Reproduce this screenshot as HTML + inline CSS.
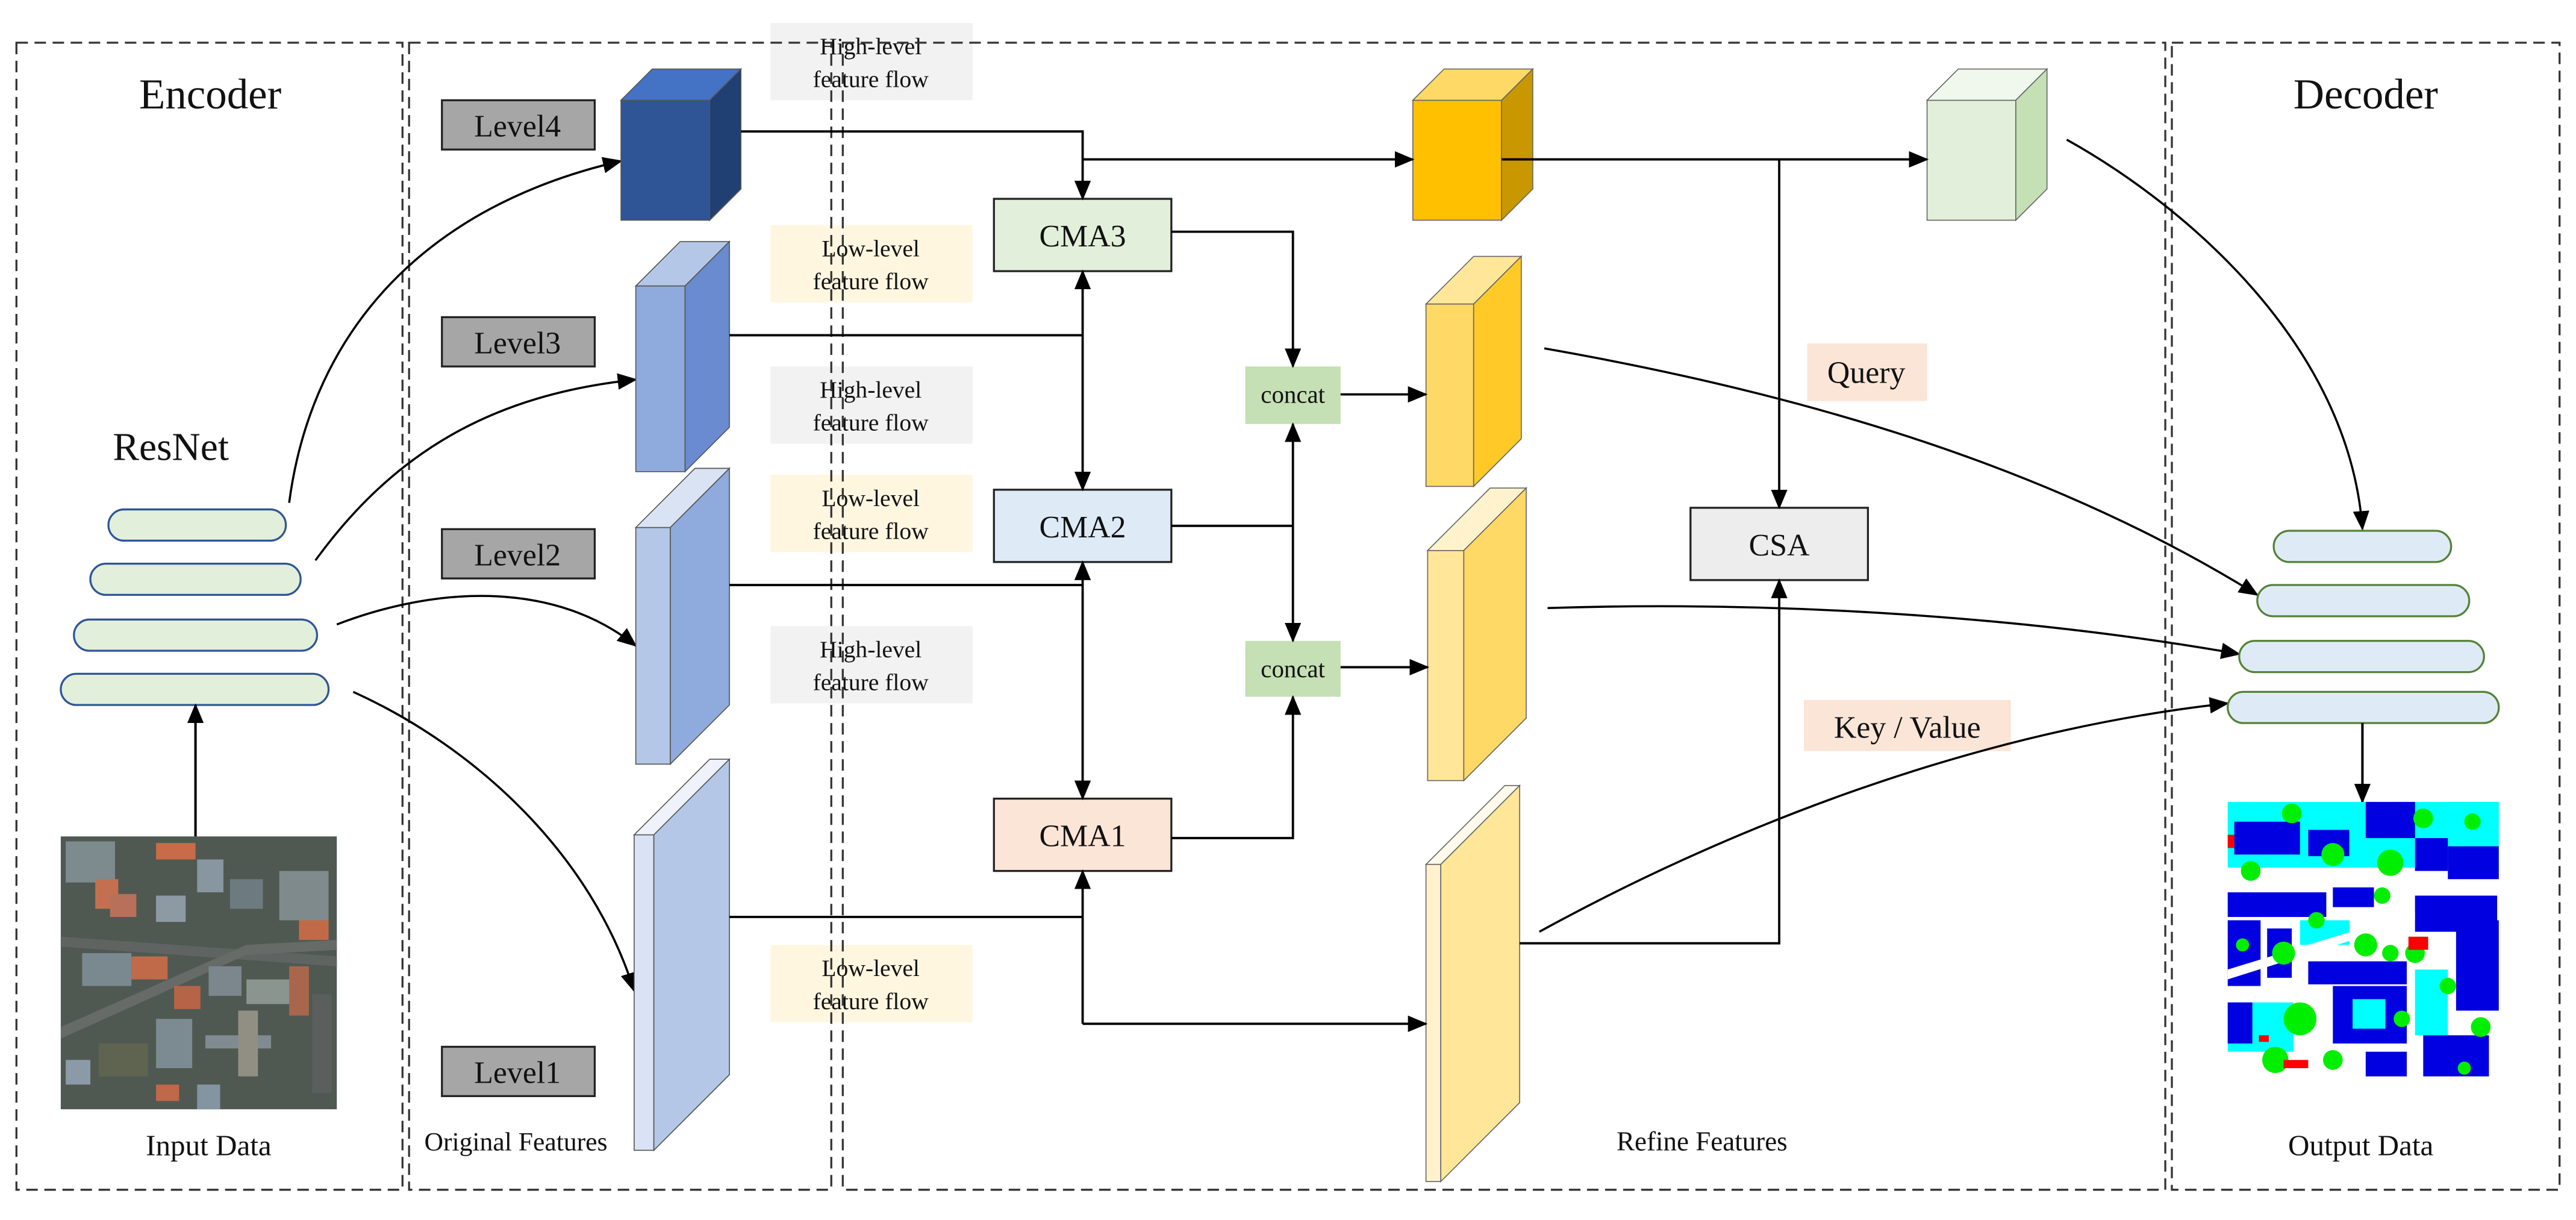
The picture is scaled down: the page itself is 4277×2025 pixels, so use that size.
<!DOCTYPE html>
<html><head><meta charset="utf-8"><style>
html,body{margin:0;padding:0;background:#fff;}
svg{display:block;}
text{font-family:"Liberation Serif",serif;fill:#111;}
</style></head><body>
<svg width="4277" height="2025" viewBox="0 0 1568 742.4" preserveAspectRatio="none" xmlns="http://www.w3.org/2000/svg">
<defs>
<marker id="a" markerUnits="userSpaceOnUse" markerWidth="12" markerHeight="10" refX="11" refY="5" orient="auto"><path d="M0,0 L12,5 L0,10 Z" fill="#000"/></marker>
<marker id="s" markerUnits="userSpaceOnUse" markerWidth="12" markerHeight="10" refX="1" refY="5" orient="auto"><path d="M12,0 L0,5 L12,10 Z" fill="#000"/></marker>
</defs>

<!-- flow labels -->
<g>
<rect x="469" y="14" width="123" height="47" fill="#f2f2f2"/>
<rect x="469" y="137" width="123" height="47" fill="#fff6e0"/>
<rect x="469" y="223" width="123" height="47" fill="#f2f2f2"/>
<rect x="469" y="289" width="123" height="47" fill="#fff6e0"/>
<rect x="469" y="381" width="123" height="47" fill="#f2f2f2"/>
<rect x="469" y="575" width="123" height="47" fill="#fff6e0"/>
</g>
<g font-size="14.5" text-anchor="middle">
<text x="530" y="33">High-level</text><text x="530" y="53">feature flow</text>
<text x="530" y="156">Low-level</text><text x="530" y="176">feature flow</text>
<text x="530" y="242">High-level</text><text x="530" y="262">feature flow</text>
<text x="530" y="308">Low-level</text><text x="530" y="328">feature flow</text>
<text x="530" y="400">High-level</text><text x="530" y="420">feature flow</text>
<text x="530" y="594">Low-level</text><text x="530" y="614">feature flow</text>
</g>

<!-- dashed boxes -->
<g fill="none" stroke="#333" stroke-width="1.2" stroke-dasharray="7,4">
<rect x="10" y="26" width="235" height="698"/>
<rect x="249" y="26" width="257" height="698"/>
<rect x="513" y="26" width="805" height="698"/>
<rect x="1322" y="26" width="236" height="698"/>
</g>

<!-- titles -->
<text x="128" y="66" font-size="26" text-anchor="middle">Encoder</text>
<text x="1440" y="66" font-size="26" text-anchor="middle">Decoder</text>
<text x="104" y="280" font-size="24" text-anchor="middle">ResNet</text>
<text x="127" y="703" font-size="18" text-anchor="middle">Input Data</text>
<text x="1437" y="703" font-size="18" text-anchor="middle">Output Data</text>
<text x="314" y="700" font-size="16" text-anchor="middle">Original Features</text>
<text x="1036" y="700" font-size="16.5" text-anchor="middle">Refine Features</text>

<!-- ResNet bars -->
<g fill="#e2efda" stroke="#2f5597" stroke-width="1.2">
<rect x="66" y="310" width="108" height="19" rx="9.5"/>
<rect x="55" y="343" width="128" height="19" rx="9.5"/>
<rect x="45" y="377" width="148" height="19" rx="9.5"/>
<rect x="37" y="410" width="163" height="19" rx="9.5"/>
</g>
<line x1="119" y1="509" x2="119" y2="429" stroke="#000" stroke-width="1.5" marker-end="url(#a)"/>

<!-- input satellite image -->
<g>
<rect x="37" y="509" width="168" height="166" fill="#4a5249"/>
<rect x="37" y="509" width="168" height="166" fill="#56605a" opacity=".5"/>
<rect x="40" y="512" width="30" height="25" fill="#7d8a8e"/>
<rect x="58" y="535" width="14" height="18" fill="#c47050"/>
<rect x="95" y="513" width="24" height="10" fill="#c96b48"/>
<rect x="120" y="523" width="16" height="20" fill="#8896a0"/>
<rect x="140" y="535" width="20" height="18" fill="#6d7a80"/>
<rect x="170" y="530" width="30" height="30" fill="#7f8a8c"/>
<rect x="182" y="560" width="18" height="12" fill="#c26a48"/>
<rect x="95" y="545" width="18" height="16" fill="#8d9aa4"/>
<rect x="67" y="544" width="16" height="14" fill="#b8705a"/>
<polygon points="37,570 205,582 205,588 37,576" fill="#5f6462"/>
<polygon points="37,625 150,575 205,572 205,578 150,581 37,632" fill="#676b68"/>
<rect x="50" y="580" width="30" height="20" fill="#7a8890"/>
<rect x="80" y="582" width="22" height="14" fill="#c06a4a"/>
<rect x="106" y="600" width="16" height="14" fill="#b66448"/>
<rect x="127" y="588" width="20" height="18" fill="#7b878c"/>
<rect x="150" y="596" width="28" height="15" fill="#8b9590"/>
<rect x="176" y="588" width="12" height="30" fill="#a9664c"/>
<rect x="190" y="605" width="12" height="60" fill="#5a5e5d"/>
<rect x="60" y="635" width="30" height="20" fill="#5e6450"/>
<rect x="95" y="620" width="22" height="30" fill="#7c8a92"/>
<rect x="125" y="630" width="40" height="8" fill="#7f8b90"/>
<rect x="145" y="615" width="12" height="40" fill="#918f84"/>
<rect x="40" y="645" width="15" height="15" fill="#8c9aa8"/>
<rect x="120" y="660" width="14" height="15" fill="#8395a0"/>
<rect x="95" y="660" width="14" height="10" fill="#c0684a"/>
</g>

<!-- encoder curves -->
<g fill="none" stroke="#000" stroke-width="1.3">
<path d="M176,306 C190,200 260,125 378,98" marker-end="url(#a)"/>
<path d="M192,341 C240,275 300,240 387,231" marker-end="url(#a)"/>
<path d="M205,380 C270,355 340,355 387,393" marker-end="url(#a)"/>
<path d="M215,421 C290,455 360,520 386,603" marker-end="url(#a)"/>
</g>

<!-- level labels -->
<g fill="#a6a6a6" stroke="#222" stroke-width="1.2">
<rect x="269" y="61" width="93" height="30"/>
<rect x="269" y="193" width="93" height="30"/>
<rect x="269" y="322" width="93" height="30"/>
<rect x="269" y="637" width="93" height="30"/>
</g>
<g font-size="19" text-anchor="middle">
<text x="315" y="83">Level4</text>
<text x="315" y="215">Level3</text>
<text x="315" y="344">Level2</text>
<text x="315" y="659">Level1</text>
</g>

<!-- blue cubes -->
<g stroke="#555" stroke-width=".6">
<rect x="378" y="61" width="54" height="73" fill="#2f5597"/>
<polygon points="378,61 397,42 451,42 432,61" fill="#4472c4"/>
<polygon points="432,61 451,42 451,115 432,134" fill="#203f73"/>
<rect x="387" y="174" width="30" height="113" fill="#8faadc"/>
<polygon points="387,174 414,147 444,147 417,174" fill="#b4c7e7"/>
<polygon points="417,174 444,147 444,260 417,287" fill="#6a8bd0"/>
<rect x="387" y="321" width="21" height="144" fill="#b4c7e7"/>
<polygon points="387,321 423,285 444,285 408,321" fill="#dae3f3"/>
<polygon points="408,321 444,285 444,429 408,465" fill="#8faadc"/>
<rect x="386" y="508" width="12" height="192" fill="#dae3f3"/>
<polygon points="386,508 432,462 444,462 398,508" fill="#eef2fa"/>
<polygon points="398,508 444,462 444,654 398,700" fill="#b4c7e7"/>
</g>

<!-- yellow cubes -->
<g stroke="#666" stroke-width=".6">
<rect x="860" y="61" width="54" height="73" fill="#ffc000"/>
<polygon points="860,61 879,42 933,42 914,61" fill="#ffd966"/>
<polygon points="914,61 933,42 933,115 914,134" fill="#c99700"/>
<rect x="868" y="185" width="29" height="111" fill="#ffd966"/>
<polygon points="868,185 897,156 926,156 897,185" fill="#ffe699"/>
<polygon points="897,185 926,156 926,267 897,296" fill="#ffca28"/>
<rect x="869" y="335" width="22" height="140" fill="#ffe699"/>
<polygon points="869,335 907,297 929,297 891,335" fill="#fff2cc"/>
<polygon points="891,335 929,297 929,437 891,475" fill="#ffd966"/>
<rect x="868" y="526" width="9" height="193" fill="#fff2cc"/>
<polygon points="868,526 916,478 925,478 877,526" fill="#fffaeb"/>
<polygon points="877,526 925,478 925,671 877,719" fill="#ffe699"/>
<rect x="1173" y="61" width="54" height="73" fill="#e2efda"/>
<polygon points="1173,61 1192,42 1246,42 1227,61" fill="#f0f7ec"/>
<polygon points="1227,61 1246,42 1246,115 1227,134" fill="#c5e0b4"/>
</g>

<!-- CMA boxes -->
<g stroke="#222" stroke-width="1.2">
<rect x="605" y="121" width="108" height="44" fill="#e2efda"/>
<rect x="605" y="298" width="108" height="44" fill="#deebf7"/>
<rect x="605" y="486" width="108" height="44" fill="#fbe5d6"/>
<rect x="1029" y="309" width="108" height="44" fill="#ededed"/>
</g>
<rect x="758" y="223" width="58" height="35" fill="#c5e0b4"/>
<rect x="758" y="390" width="58" height="34" fill="#c5e0b4"/>
<rect x="1100" y="209" width="73" height="35" fill="#fbe5d6"/>
<rect x="1098" y="426" width="126" height="31" fill="#fbe5d6"/>
<g font-size="19" text-anchor="middle">
<text x="659" y="150">CMA3</text>
<text x="659" y="327">CMA2</text>
<text x="659" y="515">CMA1</text>
<text x="1083" y="338">CSA</text>
<text x="1136" y="233">Query</text>
<text x="1161" y="449">Key / Value</text>
</g>
<g font-size="15" text-anchor="middle">
<text x="787" y="245">concat</text>
<text x="787" y="412">concat</text>
</g>

<!-- connectors -->
<g fill="none" stroke="#000" stroke-width="1.4">
<path d="M451,80 H659 V121" marker-end="url(#a)"/>
<path d="M659,97 H860" marker-end="url(#a)"/>
<path d="M444,204 H659"/>
<path d="M659,165 V298" marker-start="url(#s)" marker-end="url(#a)"/>
<path d="M444,356 H659"/>
<path d="M659,342 V486" marker-start="url(#s)" marker-end="url(#a)"/>
<path d="M444,558 H659"/>
<path d="M659,623 V530" marker-end="url(#a)"/>
<path d="M659,623 H868" marker-end="url(#a)"/>
<path d="M713,141 H787 V223" marker-end="url(#a)"/>
<path d="M816,240 H868" marker-end="url(#a)"/>
<path d="M713,320 H787"/>
<path d="M787,320 V258" marker-end="url(#a)"/>
<path d="M787,320 V390" marker-end="url(#a)"/>
<path d="M816,406 H869" marker-end="url(#a)"/>
<path d="M713,510 H787 V424" marker-end="url(#a)"/>
<path d="M914,97 H1173" marker-end="url(#a)"/>
<path d="M1083,97 V309" marker-end="url(#a)"/>
<path d="M925,574 H1083 V353" marker-end="url(#a)"/>
</g>
<g fill="none" stroke="#000" stroke-width="1.3">
<path d="M1258,85 C1330,125 1430,210 1438,322" marker-end="url(#a)"/>
<path d="M940,212 C1100,240 1250,285 1374,362" marker-end="url(#a)"/>
<path d="M942,370 C1100,365 1250,378 1363,398" marker-end="url(#a)"/>
<path d="M937,567 C1050,505 1200,445 1356,428" marker-end="url(#a)"/>
</g>

<!-- decoder bars -->
<g fill="#deebf7" stroke="#548235" stroke-width="1.2">
<rect x="1384" y="323" width="108" height="19" rx="9.5"/>
<rect x="1374" y="356" width="129" height="19" rx="9.5"/>
<rect x="1363" y="390" width="149" height="19" rx="9.5"/>
<rect x="1356" y="421" width="165" height="19" rx="9.5"/>
</g>
<line x1="1438" y1="440" x2="1438" y2="488" stroke="#000" stroke-width="1.5" marker-end="url(#a)"/>

<!-- output segmentation -->
<g>
<rect x="1356" y="488" width="165" height="167" fill="#ffffff"/>
<rect x="1356" y="488" width="165" height="40" fill="#00ffff"/>
<rect x="1360" y="500" width="40" height="20" fill="#0000e0"/>
<rect x="1405" y="505" width="25" height="16" fill="#0000e0"/>
<rect x="1440" y="488" width="30" height="22" fill="#0000e0"/>
<rect x="1470" y="510" width="20" height="20" fill="#0000e0"/>
<rect x="1490" y="515" width="31" height="20" fill="#0000e0"/>
<rect x="1356" y="543" width="60" height="15" fill="#0000e0"/>
<rect x="1420" y="540" width="25" height="12" fill="#0000e0"/>
<rect x="1356" y="560" width="20" height="40" fill="#0000e0"/>
<rect x="1380" y="565" width="15" height="30" fill="#0000e0"/>
<rect x="1400" y="560" width="30" height="15" fill="#00ffff"/>
<rect x="1470" y="545" width="50" height="22" fill="#0000e0"/>
<rect x="1495" y="560" width="26" height="55" fill="#0000e0"/>
<polygon points="1356,590 1470,555 1470,560 1356,596" fill="#ffffff"/>
<rect x="1405" y="585" width="60" height="14" fill="#0000e0"/>
<rect x="1420" y="600" width="45" height="35" fill="#0000e0"/>
<rect x="1432" y="608" width="20" height="18" fill="#00ffff"/>
<rect x="1356" y="610" width="40" height="30" fill="#00ffff"/>
<rect x="1356" y="610" width="15" height="25" fill="#0000e0"/>
<rect x="1470" y="590" width="20" height="40" fill="#00ffff"/>
<rect x="1475" y="630" width="40" height="25" fill="#0000e0"/>
<rect x="1440" y="640" width="25" height="15" fill="#0000e0"/>
<rect x="1490" y="488" width="31" height="15" fill="#00ffff"/>
<g fill="#00ee00">
<circle cx="1395" cy="495" r="6"/><circle cx="1420" cy="520" r="7"/><circle cx="1455" cy="525" r="8"/>
<circle cx="1475" cy="498" r="6"/><circle cx="1505" cy="500" r="5"/><circle cx="1370" cy="530" r="6"/>
<circle cx="1390" cy="580" r="7"/><circle cx="1440" cy="575" r="7"/><circle cx="1470" cy="580" r="6"/>
<circle cx="1400" cy="620" r="10"/><circle cx="1385" cy="645" r="8"/><circle cx="1420" cy="645" r="6"/>
<circle cx="1455" cy="580" r="5"/><circle cx="1510" cy="625" r="6"/><circle cx="1365" cy="575" r="4"/>
<circle cx="1450" cy="545" r="5"/><circle cx="1410" cy="560" r="5"/><circle cx="1490" cy="600" r="5"/>
<circle cx="1462" cy="620" r="5"/><circle cx="1500" cy="650" r="4"/>
</g>
<rect x="1356" y="508" width="4" height="8" fill="#ff0000"/>
<rect x="1466" y="570" width="12" height="8" fill="#ff0000"/>
<rect x="1390" y="645" width="15" height="5" fill="#ff0000"/>
<rect x="1375" y="630" width="6" height="4" fill="#ff0000"/>
</g>
</svg>
</body></html>
